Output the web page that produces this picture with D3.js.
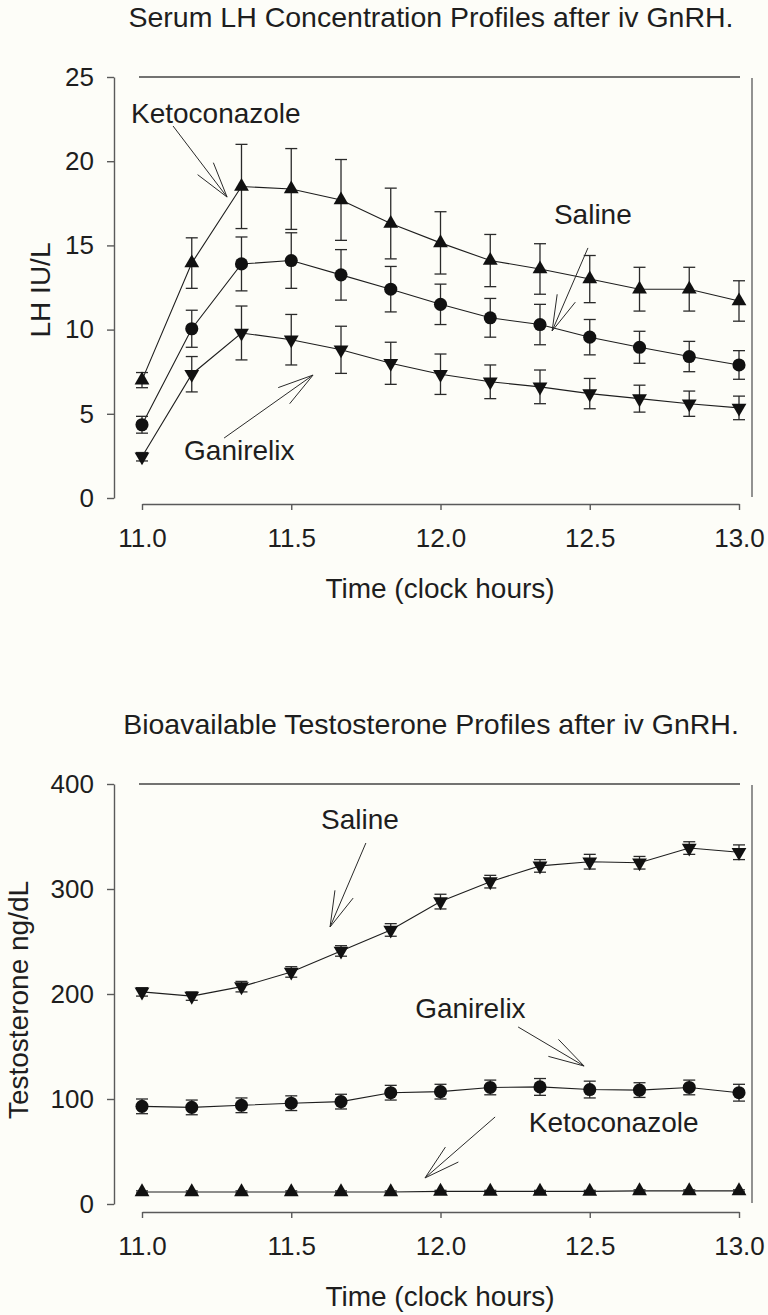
<!DOCTYPE html>
<html>
<head>
<meta charset="utf-8">
<script src="https://cdn.jsdelivr.net/npm/d3@7"></script>
<style>
  html, body { margin: 0; padding: 0; background: #fdfdf8; }
  svg { display: block; font-family: Arial, "Liberation Sans", sans-serif; }
</style>
</head>
<body>
<svg id="chart" width="768" height="1315"></svg>
<script>
// ---------------- DATA ----------------
const times = [11.0, 11.1667, 11.3333, 11.5, 11.6667, 11.8333, 12.0, 12.1667, 12.3333, 12.5, 12.6667, 12.8333, 13.0];
const xTicks = [11.0, 11.5, 12.0, 12.5, 13.0];

// Panel 1: Serum LH (IU/L)
const lhTitle = "Serum LH Concentration Profiles after iv GnRH.";
const lhYLabel = "LH IU/L";
const lhYTicks = [0, 5, 10, 15, 20, 25];
const lhKeto    = [7.0, 13.95, 18.5, 18.35, 17.7, 16.3, 15.15, 14.1, 13.6, 13.0, 12.4, 12.4, 11.7];
const lhKetoSE  = [0.45, 1.5, 2.5, 2.4, 2.4, 2.1, 1.85, 1.55, 1.5, 1.4, 1.3, 1.3, 1.2];
const lhSaline  = [4.35, 10.05, 13.9, 14.1, 13.25, 12.4, 11.5, 10.7, 10.3, 9.55, 8.95, 8.4, 7.9];
const lhSalineSE= [0.5, 1.1, 1.6, 1.65, 1.5, 1.35, 1.2, 1.15, 1.2, 1.05, 0.95, 0.9, 0.85];
const lhGan     = [2.45, 7.35, 9.8, 9.4, 8.8, 8.0, 7.35, 6.9, 6.6, 6.2, 5.9, 5.6, 5.35];
const lhGanSE   = [0.25, 1.05, 1.6, 1.5, 1.4, 1.25, 1.2, 1.0, 1.0, 0.9, 0.8, 0.75, 0.7];
const lhLabels = [
  {text: "Ketoconazole", x: 10.963, y: 22.27, fromX: 11.104, fromY: 22.09, toX: 11.285, toY: 17.87},
  {text: "Saline",       x: 12.380, y: 16.27, fromX: 12.494, fromY: 14.85, toX: 12.374, toY: 9.92},
  {text: "Ganirelix",    x: 11.141, y: 2.26,  fromX: 11.275, fromY: 3.56,  toX: 11.573, toY: 7.30}
];

// Panel 2: Bioavailable testosterone (ng/dL)
const tTitle = "Bioavailable Testosterone Profiles after iv GnRH.";
const tYLabel = "Testosterone ng/dL";
const tYTicks = [0, 100, 200, 300, 400];
const tSaline   = [202, 198, 207, 221, 241, 261, 288, 307, 322, 326, 325, 339, 335];
const tSalineSE = [4, 4, 5, 5, 5, 6, 7, 6, 6, 7, 6, 6, 7];
const tGan      = [93, 92, 94, 96, 97.5, 106, 107, 111, 111.5, 109, 108.5, 111, 106];
const tGanSE    = [7, 7, 7, 7, 7, 7, 7, 7, 8, 8, 7, 7, 8];
const tKeto     = [11.5, 11.5, 11.5, 11.5, 11.5, 11.5, 12, 12, 12, 12, 12.5, 12.5, 12.5];
const tKetoSE   = [1, 1, 1, 1, 1, 1, 1, 1, 1, 1, 1, 1, 1];
const tLabels = [
  {text: "Saline",       x: 11.600, y: 357.1, fromX: 11.750, fromY: 343.8, toX: 11.630, toY: 263.8},
  {text: "Ganirelix",    x: 11.915, y: 177.1, fromX: 12.260, fromY: 168.6, toX: 12.481, toY: 131.4},
  {text: "Ketoconazole", x: 12.296, y: 68.6,  fromX: 12.183, fromY: 82.9,  toX: 11.948, toY: 24.8}
];

// ---------------- DRAW ----------------
const svg = d3.select("#chart");
const ink = "#1e1e1e";
const axisCol = "#5a5a5a";

function panel(cfg) {
  const g = svg.append("g");
  const x = d3.scaleLinear().domain([11, 13]).range([142, 739]);
  const y = d3.scaleLinear().domain(cfg.yDomain).range([cfg.yBottom, cfg.yTop]);

  // title
  g.append("text").attr("x", 431).attr("y", cfg.titleY)
    .attr("text-anchor", "middle").attr("font-size", 28.5).attr("fill", ink)
    .text(cfg.title);

  // frame (top & right)
  g.append("line").attr("x1", 139).attr("x2", 740).attr("y1", cfg.yTop).attr("y2", cfg.yTop)
    .attr("stroke", "#444").attr("stroke-width", 1.4);
  g.append("line").attr("x1", 752).attr("x2", 752).attr("y1", cfg.yTop + 1).attr("y2", cfg.yBottom - 1)
    .attr("stroke", "#777").attr("stroke-width", 1.6);

  // y axis
  const ya = g.append("g").attr("transform", "translate(114,0)")
    .call(d3.axisLeft(y).tickValues(cfg.yTicks).tickSize(7).tickSizeOuter(0).tickPadding(13).tickFormat(d3.format("d")));
  ya.selectAll("path,line").attr("stroke", axisCol).attr("stroke-width", 1.4);
  ya.selectAll("text").attr("font-size", 26).attr("fill", ink).attr("font-family", "Arial, 'Liberation Sans', sans-serif");

  // x axis
  const xa = g.append("g").attr("transform", `translate(0,${cfg.xAxisY})`)
    .call(d3.axisBottom(x).tickValues(xTicks).tickSize(6).tickSizeOuter(0).tickPadding(19).tickFormat(d3.format(".1f")));
  xa.selectAll("path,line").attr("stroke", axisCol).attr("stroke-width", 1.4);
  xa.selectAll("text").attr("font-size", 26).attr("fill", ink).attr("font-family", "Arial, 'Liberation Sans', sans-serif");

  // axis titles
  g.append("text").attr("x", 440).attr("y", cfg.xAxisY + 94)
    .attr("text-anchor", "middle").attr("font-size", 28).attr("fill", ink)
    .text("Time (clock hours)");
  g.append("text")
    .attr("transform", `translate(${cfg.yLabelX},${cfg.yLabelY}) rotate(-90)`)
    .attr("text-anchor", "middle").attr("font-size", 28).attr("fill", ink)
    .text(cfg.yLabel);

  // series
  const line = d3.line().x(d => x(d.t)).y(d => y(d.v));
  cfg.series.forEach(s => {
    const pts = times.map((t, i) => ({t, v: s.values[i], e: s.se[i]}));
    g.append("path").datum(pts).attr("d", line)
      .attr("fill", "none").attr("stroke", ink).attr("stroke-width", 1.1);
    const eb = g.append("g").attr("stroke", "#2a2a2a").attr("stroke-width", 1.3);
    pts.forEach(p => {
      const x0 = x(p.t), yHi = y(p.v + p.e), yLo = y(p.v - p.e);
      eb.append("line").attr("x1", x0).attr("x2", x0).attr("y1", yHi).attr("y2", yLo);
      eb.append("line").attr("x1", x0 - 6).attr("x2", x0 + 6).attr("y1", yHi).attr("y2", yHi);
      eb.append("line").attr("x1", x0 - 6).attr("x2", x0 + 6).attr("y1", yLo).attr("y2", yLo);
    });
    const sym = d3.symbol().type(s.shape === "circle" ? d3.symbolCircle : d3.symbolTriangle).size(s.shape === "circle" ? 135 : 95);
    g.append("g").selectAll("path").data(pts).join("path")
      .attr("d", sym)
      .attr("transform", d => `translate(${x(d.t)},${y(d.v)})` + (s.shape === "down" ? " rotate(180)" : ""))
      .attr("fill", "#111");
  });

  // annotations with open arrowheads
  const headLen = 37, headAng = 15.5 * Math.PI / 180;
  cfg.labels.forEach(a => {
    g.append("text").attr("x", x(a.x)).attr("y", y(a.y))
      .attr("font-size", 28).attr("fill", ink).text(a.text);
    const x1 = x(a.fromX), y1 = y(a.fromY), x2 = x(a.toX), y2 = y(a.toY);
    const ang = Math.atan2(y1 - y2, x1 - x2);
    const ag = g.append("g").attr("stroke", "#2a2a2a").attr("stroke-width", 1);
    ag.append("line").attr("x1", x1).attr("y1", y1).attr("x2", x2).attr("y2", y2);
    [-headAng, headAng].forEach(da => {
      ag.append("line").attr("x1", x2).attr("y1", y2)
        .attr("x2", x2 + headLen * Math.cos(ang + da))
        .attr("y2", y2 + headLen * Math.sin(ang + da));
    });
  });
}

panel({
  title: lhTitle, titleY: 27, yLabel: lhYLabel, yLabelX: 50, yLabelY: 290,
  yDomain: [0, 25], yTicks: lhYTicks, yTop: 77, yBottom: 498, xAxisY: 504,
  series: [
    {values: lhKeto, se: lhKetoSE, shape: "up"},
    {values: lhSaline, se: lhSalineSE, shape: "circle"},
    {values: lhGan, se: lhGanSE, shape: "down"}
  ],
  labels: lhLabels
});

panel({
  title: tTitle, titleY: 734, yLabel: tYLabel, yLabelX: 28, yLabelY: 1000,
  yDomain: [0, 400], yTicks: tYTicks, yTop: 784, yBottom: 1204, xAxisY: 1212,
  series: [
    {values: tSaline, se: tSalineSE, shape: "down"},
    {values: tGan, se: tGanSE, shape: "circle"},
    {values: tKeto, se: tKetoSE, shape: "up"}
  ],
  labels: tLabels
});
</script>
</body>
</html>
